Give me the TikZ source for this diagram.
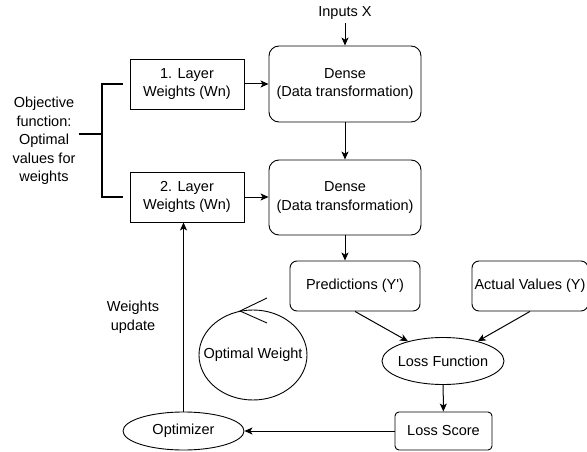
\documentclass[tikz,border=0pt]{standalone}
\usepackage{fontspec}
\setmainfont{Liberation Sans}
\usetikzlibrary{arrows.meta, positioning, shapes.geometric}

\begin{document}
\begin{tikzpicture}[
    x=1pt, y=-1pt,
    >={Stealth[length=8pt, width=7pt, inset=2pt]}, % arrow tip used everywhere
    every node/.style={font=\fontsize{14.5}{18.5}\selectfont, align=center},
    box/.style={draw, line width=0.9pt, rounded corners=7pt, inner sep=1pt}, % plain boxes
    sqbox/.style={draw, line width=0.9pt, inner sep=1pt}, % square layer boxes
    oval/.style={draw, ellipse, line width=0.9pt, inner xsep=-2pt, inner ysep=0pt}, % ellipses
    flow/.style={->, line width=1pt} % connectors
]

    % Fix the picture size
    \clip (0,0) rectangle (587,452);

    % Layers and dense blocks
    \node[sqbox, minimum width=114pt, minimum height=50pt] (layer1) at (187,84) {1. Layer\\Weights (Wn)};
    \node[sqbox, minimum width=114pt, minimum height=50pt] (layer2) at (187,197) {2. Layer\\Weights (Wn)};
    \node[box, rounded corners=10pt, minimum width=152pt, minimum height=76pt] (dense1) at (345,84) {Dense\\(Data transformation)};
    \node[box, rounded corners=10pt, minimum width=152pt, minimum height=75pt] (dense2) at (345,197.5) {Dense\\(Data transformation)};
    \node (inputs) at (345,13) {Inputs X};

    % Outputs and loss
    \node[box, minimum width=130pt, minimum height=50pt] (pred) at (355,286) {Predictions (Y\textquotesingle)};
    \node[box, minimum width=116pt, minimum height=50pt, inner xsep=0pt] (actual) at (530,286) {Actual Values (Y)};
    \node[oval, minimum width=122pt, minimum height=47pt] (loss) at (443,361) {Loss Function};
    \node[sqbox, rounded corners=4pt, minimum width=97pt, minimum height=38pt] (score) at (443.5,431) {Loss Score};
    \node[oval, minimum width=121pt, minimum height=38pt] (opt) at (183.5,431) {Optimizer};

    % Optimal weight circle with open arrow
    \node (optw) at (253,355) {Optimal Weight};
    \draw[line width=0.9pt] (optw.center) ellipse [x radius=54pt, y radius=45pt];
    \draw[line width=0.9pt] (267,298) -- (240,311) -- (267,323);

    % Labels
    \node (objective) at (44,141) {Objective\\function:\\Optimal\\values for\\weights};
    \node (update) at (133,317) {Weights\\update};

    % Bracket
    \coordinate (br1) at ([xshift=-7pt]layer1.west);
    \coordinate (br2) at ([xshift=-7pt]layer2.west);
    \coordinate (brmid) at (102,134);
    \draw[line width=1.8pt] (br1) -- (br1 -| brmid) -- (br2 -| brmid) -- (br2);
    \draw[line width=1.8pt] (objective.east |- brmid) -- (brmid);

    % Connectors
    \draw[flow] (inputs) -- (dense1);
    \draw[flow] (layer1) -- (dense1);
    \draw[flow] (dense1) -- (dense2);
    \draw[flow] (layer2.east) -- (layer2.east -| dense2.west);
    \draw[flow] (dense2.south) -- (dense2.south |- pred.north);
    \draw[flow] (pred.south) -- (loss);
    \draw[flow] (actual.south) -- (loss);
    \draw[flow] (loss) -- (score);
    \draw[flow] (score) -- (opt);
    \draw[flow] (opt.north) -- (opt.north |- layer2.south);

\end{tikzpicture}
\end{document}
